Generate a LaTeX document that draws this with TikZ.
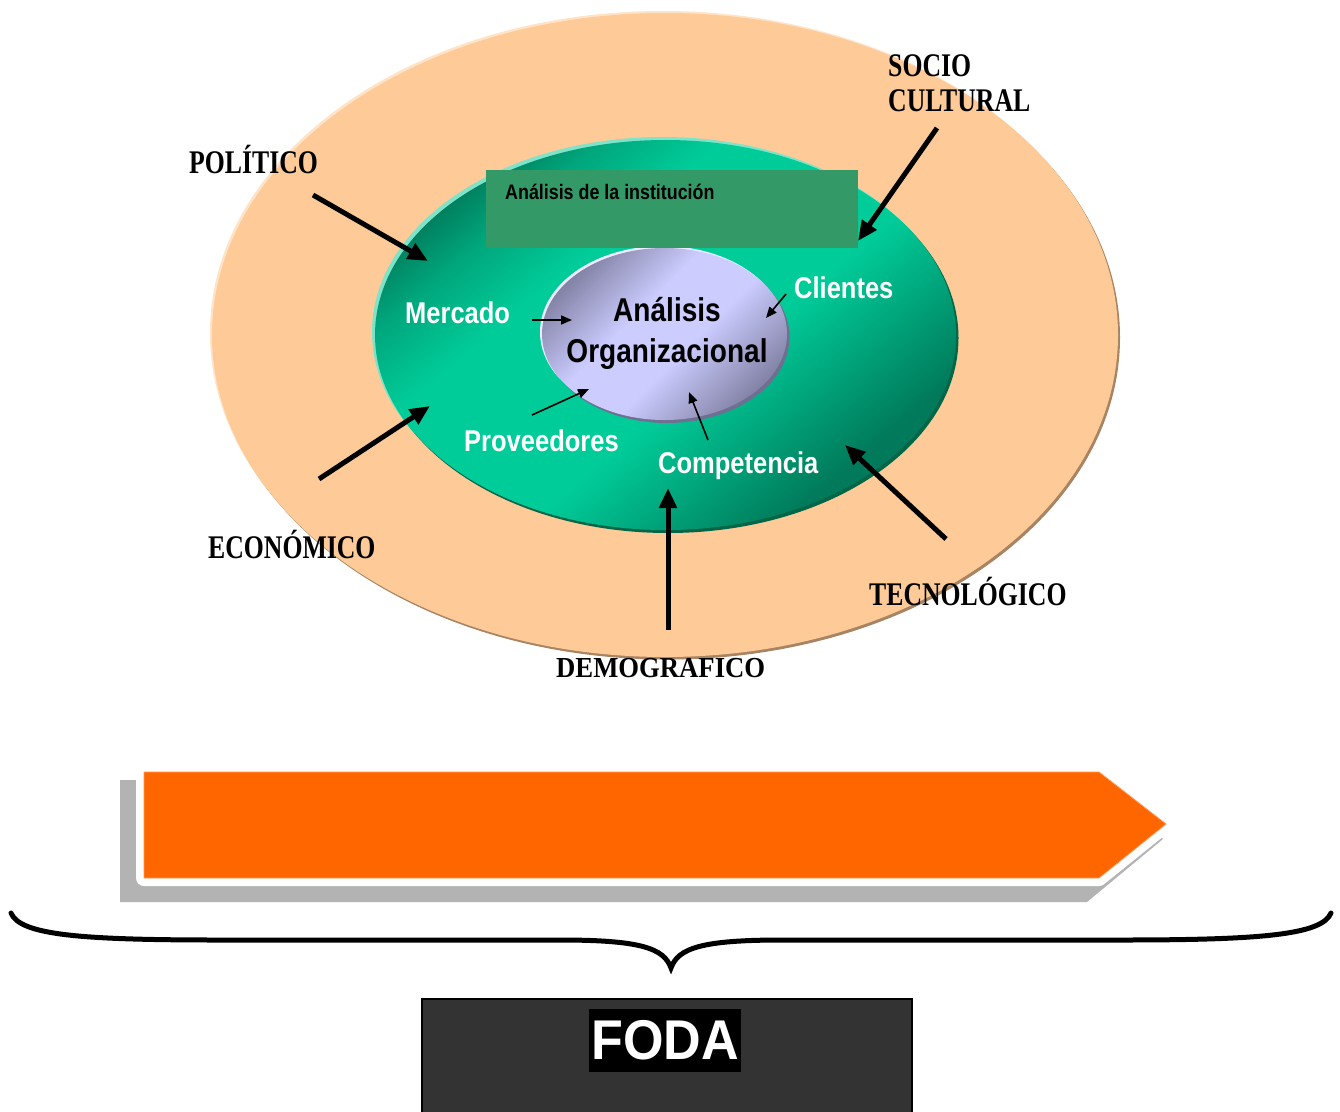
\documentclass[tikz,border=0pt]{standalone}
\usepackage{fontspec}
\usetikzlibrary{shapes.geometric,arrows.meta}

% condensed faces for the labels
\newfontfamily\labelserif[FakeStretch=0.78]{Liberation Serif}
\newfontfamily\labelserifwide[FakeStretch=0.92]{Liberation Serif}
\newfontfamily\labelsans[FakeStretch=0.85]{Liberation Sans}
\newfontfamily\titlesans[FakeStretch=0.93]{Liberation Sans}

\definecolor{peach}{HTML}{FDCA98}
\definecolor{peachrim}{HTML}{A88462}
\definecolor{peachlight}{HTML}{FFE3C6}
\definecolor{gdark}{HTML}{007A5A}
\definecolor{gmid}{HTML}{00A67C}
\definecolor{glight}{HTML}{00CC99}
\definecolor{grim}{HTML}{7EE3C8}
\definecolor{gshadow}{HTML}{006648}
\definecolor{lavlight}{HTML}{CCCCFF}
\definecolor{lavdark}{HTML}{8484A8}
\definecolor{lavrim}{HTML}{EDEDFF}
\definecolor{lavshadow}{HTML}{6F6F92}
\definecolor{boxgreen}{HTML}{339966}
\definecolor{bannerorange}{HTML}{FF6600}
\definecolor{bannerrim}{HTML}{FF9955}
\definecolor{shadowgray}{HTML}{B3B3B3}
\definecolor{fodagray}{HTML}{333333}

% diagonal band shadings: dark at both ends, light in the middle
\pgfdeclareverticalshading{greenband}{100bp}{color(0bp)=(gdark); color(27bp)=(gdark); color(36bp)=(gmid); color(44bp)=(glight); color(62bp)=(glight); color(70bp)=(gmid); color(76bp)=(gdark); color(100bp)=(gdark)}
\pgfdeclareverticalshading{lavband}{100bp}{color(0bp)=(lavdark); color(25bp)=(lavdark); color(44bp)=(lavlight); color(58bp)=(lavlight); color(75bp)=(lavdark); color(100bp)=(lavdark)}

\tikzset{
  forcearrow/.style={line width=5pt, -{Triangle[length=20pt,width=17pt]}},
  innerarrow/.style={line width=1.6pt, -{Triangle[length=11pt,width=9pt]}},
  factor/.style={font=\labelserif\bfseries\fontsize{33}{35}\selectfont, anchor=base west, inner sep=0pt},
  areaname/.style={font=\labelsans\bfseries\fontsize{30}{32}\selectfont, text=white, anchor=base west, inner sep=0pt},
  orgtext/.style={font=\labelsans\bfseries\fontsize{33}{35}\selectfont, anchor=base, inner sep=0pt},
  ring/.style={ellipse, inner sep=0pt},
}

\begin{document}
\begin{tikzpicture}[x=1pt,y=-1pt]
\useasboundingbox (0,0) rectangle (1340,1111);
\fill[white] (0,0) rectangle (1340,1111);
\clip (0,0) rectangle (1340,1111);

% environment ring
\node[ring, minimum width=906pt, minimum height=644pt, fill=peachlight] (envlight) at (663,333) {};
\node[ring, minimum width=906pt, minimum height=644pt, fill=peachrim] (envshadow) at (667,337.5) {};
\node[ring, minimum width=906pt, minimum height=644pt, fill=peach] (env) at (665,335) {};

% institution ring
\node[ring, minimum width=581pt, minimum height=390pt, fill=grim] (instlight) at (662.5,332) {};
\node[ring, minimum width=581pt, minimum height=390pt, fill=gshadow] (instshadow) at (668,338) {};
\node[ring, minimum width=581pt, minimum height=390pt, shading=greenband, shading angle=40] (inst) at (665.5,335) {};

% organisation core
\node[ring, minimum width=245pt, minimum height=172pt, fill=lavrim] (orglight) at (662.5,332) {};
\node[ring, minimum width=245pt, minimum height=172pt, fill=lavshadow] (orgshadow) at (667,337) {};
\node[ring, minimum width=245pt, minimum height=172pt, shading=lavband, shading angle=45] (org) at (664.5,334) {};

% title strip
\node[fill=boxgreen, minimum width=372pt, minimum height=78pt, anchor=north west, inner sep=0pt] (instbox) at (486,170) {};
\node[font=\labelsans\bfseries\fontsize{21}{23}\selectfont, anchor=base west, inner sep=0pt] (insttitle) at (505,199) {Análisis de la institución};

% core text
\node[orgtext] (orgline1) at (667,321) {Análisis};
\node[orgtext] (orgline2) at (667,362) {Organizacional};

% areas of the institution
\node[areaname] (mercado) at (405,323) {Mercado};
\node[areaname] (proveedores) at (464,451) {Proveedores};
\node[areaname] (clientes) at (794,298) {Clientes};
\node[areaname] (competencia) at (658,473) {Competencia};

% environment factors
\node[factor] (politico) at (189,173) {POLÍTICO};
\node[factor] (socio) at (888,76) {SOCIO};
\node[factor] (cultural) at (888,111) {CULTURAL};
\node[factor] (economico) at (208,558) {ECONÓMICO};
\node[factor] (tecnologico) at (869,605) {TECNOLÓGICO};
\node[factor, font=\labelserifwide\bfseries\fontsize{29}{31}\selectfont] (demografico) at (556,677) {DEMOGRAFICO};

% arrow end points
\coordinate (polA) at (313,195);   \coordinate (polB) at (428,261);
\coordinate (socA) at (937,128);   \coordinate (socB) at (858,241);
\coordinate (ecoA) at (319,479);   \coordinate (ecoB) at (430,406);
\coordinate (tecA) at (946,539);   \coordinate (tecB) at (845,445);
\coordinate (demA) at (668,630);   \coordinate (demB) at (668,488);
\coordinate (merA) at (532,320);   \coordinate (merB) at (572,320);
\coordinate (proA) at (532,415);   \coordinate (proB) at (589,389);
\coordinate (cliA) at (786,294);   \coordinate (cliB) at (766,318);
\coordinate (comA) at (708,440);   \coordinate (comB) at (689,392);

% external forces
\draw[forcearrow] (polA) -- (polB);
\draw[forcearrow] (socA) -- (socB);
\draw[forcearrow] (ecoA) -- (ecoB);
\draw[forcearrow] (tecA) -- (tecB);
\draw[forcearrow] (demA) -- (demB);

% internal relations
\draw[innerarrow] (merA) -- (merB);
\draw[innerarrow] (proA) -- (proB);
\draw[innerarrow] (cliA) -- (cliB);
\draw[innerarrow] (comA) -- (comB);

% banner arrow with offset shadow
\fill[shadowgray] (120,780) -- (1090,780) -- (1163,839) -- (1087,902) -- (120,902) -- cycle;
\draw[white, line width=16pt, line join=round]
  (144,772) -- (1099,772) -- (1166,824) -- (1099,878) -- (144,878) -- cycle;
\filldraw[fill=bannerorange, draw=bannerrim, line width=0.8pt]
  (144,772) -- (1099,772) -- (1166,824) -- (1099,878) -- (144,878) -- cycle;

% brace
\draw[line width=5pt, line cap=round]
  (11,913) .. controls (20,935) and (80,940) .. (220,940) -- (560,940)
  .. controls (640,940) and (664,948) .. (671,968)
  .. controls (678,948) and (702,940) .. (782,940) -- (1120,940)
  .. controls (1260,940) and (1322,935) .. (1331,913);

% result box
\node[fill=fodagray, draw=black, line width=2pt, minimum width=490pt, minimum height=124pt, anchor=north west, inner sep=0pt] (fodabox) at (421,998) {};
\node[fill=black, text=white, minimum width=152pt, minimum height=63pt, inner sep=0pt,
      font=\titlesans\bfseries\fontsize{56}{60}\selectfont] (foda) at (665,1040.5) {FODA};
\end{tikzpicture}
\end{document}
